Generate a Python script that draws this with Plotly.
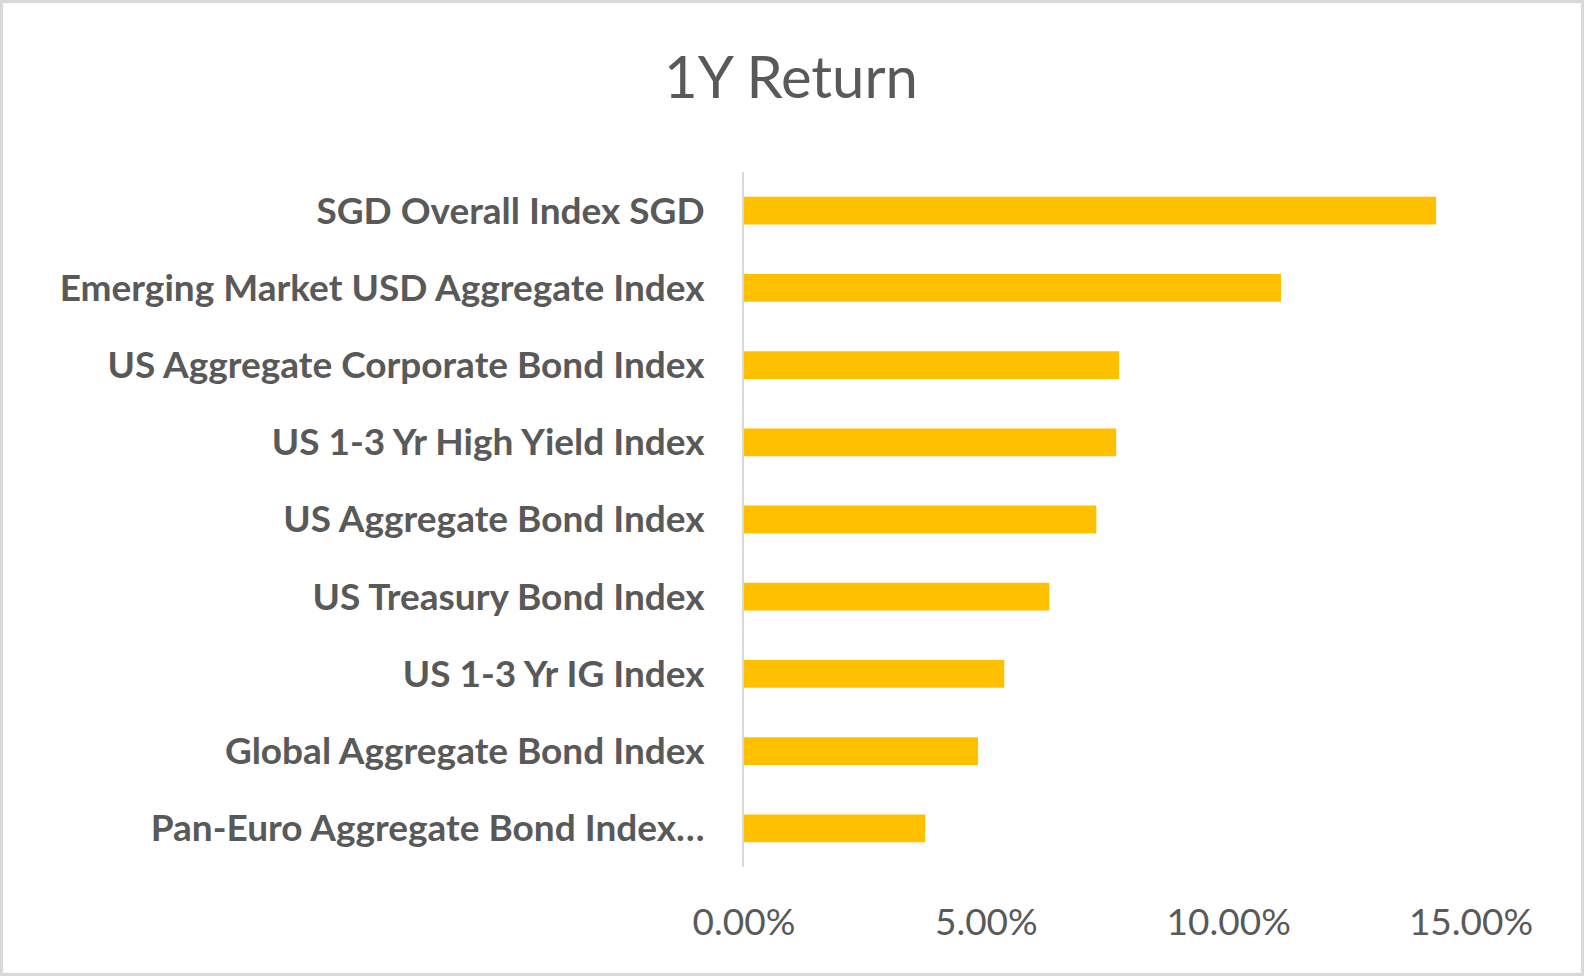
import plotly.graph_objects as go

categories = [
    "SGD Overall Index SGD",
    "Emerging Market USD Aggregate Index",
    "US Aggregate Corporate Bond Index",
    "US 1-3 Yr High Yield Index",
    "US Aggregate Bond Index",
    "US Treasury Bond Index",
    "US 1-3 Yr IG Index",
    "Global Aggregate Bond Index",
    "Pan-Euro Aggregate Bond Index…",
]
returns = [0.1428, 0.1108, 0.0774, 0.0768, 0.0727, 0.0630, 0.0537, 0.0483, 0.0374]
tick_vals = [0, 0.05, 0.10, 0.15]
tick_text = ["0.00%", "5.00%", "10.00%", "15.00%"]

W, H = 1584, 976
L, R, T, B = 744, 113, 172, 109
pw, ph = W - L - R, H - T - B

fig = go.Figure(go.Bar(
    x=returns, y=categories, orientation="h",
    marker=dict(color="#FFC000", line=dict(width=0)),
    width=0.36,
))

fig.update_layout(
    width=W, height=H,
    margin=dict(l=L, r=R, t=T, b=B),
    paper_bgcolor="white", plot_bgcolor="white",
    font=dict(family="Lato, sans-serif", color="#595959"),
    title=dict(text="1Y Return", x=791 / W, xref="container", xanchor="center",
               y=1 - 78 / H, yref="container", yanchor="middle",
               font=dict(size=58, color="#595959", family="Lato, sans-serif")),
    showlegend=False,
)
fig.update_xaxes(
    range=[0, 0.15], tickvals=tick_vals, ticktext=tick_text,
    showgrid=False, zeroline=False, showline=False,
    tickfont=dict(size=37, color="#595959"), ticklabelstandoff=30,
)
fig.update_yaxes(
    autorange="reversed", showgrid=False, zeroline=False,
    showline=True, linecolor="#d9d9d9", linewidth=2,
    tickfont=dict(size=37, color="#595959", family="Lato, sans-serif", weight="bold"),
    ticklabelstandoff=30,
)
fig.add_shape(type="rect", xref="paper", yref="paper",
              x0=(1.5 - L) / pw, x1=(W - 1.5 - L) / pw,
              y0=-(B - 1.5) / ph, y1=1 + (T - 1.5) / ph,
              line=dict(color="#d9d9d9", width=3), fillcolor="rgba(0,0,0,0)", layer="below")

fig.write_html("out.html", config={"displayModeBar": False},
               post_script="document.body.style.margin='0';")
